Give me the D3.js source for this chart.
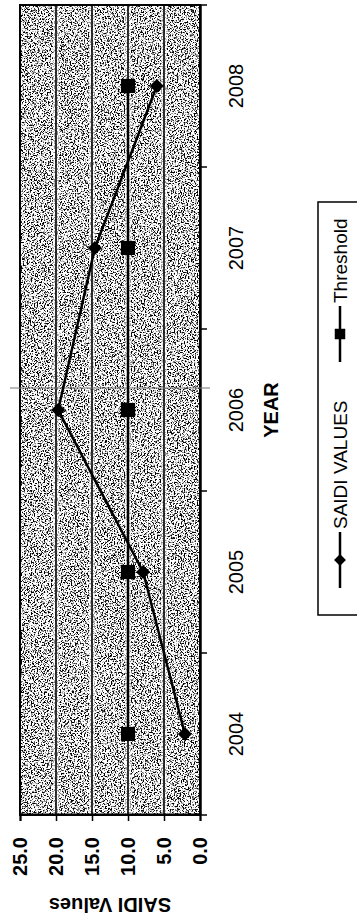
<!DOCTYPE html>
<html>
<head>
<meta charset="utf-8">
<script src="https://cdn.jsdelivr.net/npm/d3@7.9.0/dist/d3.min.js"></script>
<style>
  body { margin: 0; background: #fff; }
  svg { display: block; font-family: "Liberation Sans", Arial, sans-serif; }
</style>
</head>
<body>
<svg id="chart" width="357" height="924"></svg>
<script>
// data
const years = ["2004", "2005", "2006", "2007", "2008"];
const saidiValues = [2.1, 7.9, 19.7, 14.6, 6.0];
const thresholdValues = [10, 10, 10, 10, 10];
const valueTicks = [0, 5, 10, 15, 20, 25];
const legendLabels = ["SAIDI VALUES", "Threshold"];

const W = 924, H = 357; // chart is drawn in landscape, then turned on its side
const margin = { left: 109, right: 5, top: 20, bottom: 157 };

let svg = d3.select("#chart");

// speckled halftone look of the plot area
let defs = svg.append("defs");
let f = defs.append("filter").attr("id", "speckle")
  .attr("x", 0).attr("y", 0).attr("width", "100%").attr("height", "100%");
f.append("feTurbulence").attr("type", "fractalNoise")
  .attr("baseFrequency", 0.7).attr("numOctaves", 2).attr("seed", 7);
f.append("feColorMatrix").attr("type", "matrix")
  .attr("values", "0 0 0 0 0  0 0 0 0 0  0 0 0 0 0  1 0 0 0 0");
f.append("feComponentTransfer").append("feFuncA")
  .attr("type", "linear").attr("slope", 7).attr("intercept", -3.45);

let g = svg.append("g").attr("transform", `translate(0,${W}) rotate(-90)`);

let x = d3.scaleBand().domain(years).range([margin.left, W - margin.right]);
let y = d3.scaleLinear().domain([0, 25]).range([H - margin.bottom, margin.top]);

// plot background
g.append("rect")
  .attr("x", margin.left).attr("y", margin.top)
  .attr("width", W - margin.left - margin.right)
  .attr("height", H - margin.top - margin.bottom)
  .attr("fill", "#fff");
g.append("rect")
  .attr("x", margin.left).attr("y", margin.top)
  .attr("width", W - margin.left - margin.right)
  .attr("height", H - margin.top - margin.bottom)
  .attr("fill", "#fff")
  .attr("filter", "url(#speckle)");

// gridlines, with the light halo the scan leaves next to them
let grid = g.append("g");
let gridVals = valueTicks.filter(d => d > 0 && d < 25);
grid.selectAll(".halo")
  .data(gridVals)
  .join("line")
  .attr("class", "halo")
  .attr("x1", margin.left).attr("x2", W - margin.right)
  .attr("y1", d => y(d)).attr("y2", d => y(d))
  .attr("stroke", "#fff").attr("stroke-opacity", 0.55).attr("stroke-width", 6);
grid.selectAll(".gl")
  .data(gridVals)
  .join("line")
  .attr("class", "gl")
  .attr("x1", margin.left).attr("x2", W - margin.right)
  .attr("y1", d => y(d)).attr("y2", d => y(d))
  .attr("stroke", "#000").attr("stroke-width", 1.6);

// frame
g.append("rect")
  .attr("x", margin.left).attr("y", margin.top)
  .attr("width", W - margin.left - margin.right)
  .attr("height", H - margin.top - margin.bottom)
  .attr("fill", "none").attr("stroke", "#000").attr("stroke-width", 2);

// value axis
let yAxis = g.append("g")
  .attr("transform", `translate(${margin.left},0)`)
  .call(d3.axisLeft(y).tickValues(valueTicks).tickFormat(d3.format(".1f")).tickSize(6).tickPadding(16));
yAxis.select(".domain").attr("stroke-width", 2);
yAxis.selectAll("line").attr("stroke-width", 1.5);
yAxis.selectAll("text").attr("font-size", 20).attr("font-weight", "bold").attr("font-family", null);

// year axis
let xAxis = g.append("g")
  .attr("transform", `translate(0,${H - margin.bottom})`)
  .call(d3.axisBottom(x).tickSize(0).tickPadding(29));
xAxis.select(".domain").attr("stroke-width", 2.5);
xAxis.selectAll("text").attr("font-size", 20).attr("font-family", null);
xAxis.selectAll(".edge")
  .data(years.map(d => x(d)).concat([x.range()[1]]))
  .join("line")
  .attr("class", "edge")
  .attr("x1", d => d).attr("x2", d => d)
  .attr("y1", 0).attr("y2", 7)
  .attr("stroke", "#000").attr("stroke-width", 1.5);

// axis titles
g.append("text")
  .attr("x", (margin.left + W - margin.right) / 2)
  .attr("y", 278)
  .attr("text-anchor", "middle")
  .attr("font-size", 20).attr("font-weight", "bold")
  .text("YEAR");
g.append("text")
  .attr("transform", `translate(26,${(margin.top + H - margin.bottom) / 2}) rotate(-90)`)
  .attr("text-anchor", "middle")
  .attr("font-size", 20).attr("font-weight", "bold")
  .text("SAIDI Values");

// stray scanner line
g.append("line")
  .attr("x1", 536).attr("x2", 536).attr("y1", 10).attr("y2", 210)
  .attr("stroke", "#777").attr("stroke-width", 1);

// series
let line = d3.line().x((d, i) => x(years[i]) + x.bandwidth() / 2).y(d => y(d));
let diamond = d3.symbol(d3.symbolSquare, 100);
let square = d3.symbol(d3.symbolSquare, 200);

g.append("path").datum(thresholdValues)
  .attr("d", line).attr("fill", "none").attr("stroke", "#000").attr("stroke-width", 2.5);
g.append("path").datum(saidiValues)
  .attr("d", line).attr("fill", "none").attr("stroke", "#000").attr("stroke-width", 2.5);

g.append("g").selectAll("path")
  .data(thresholdValues)
  .join("path")
  .attr("transform", (d, i) => `translate(${x(years[i]) + x.bandwidth() / 2},${y(d)})`)
  .attr("d", square).attr("fill", "#000");
g.append("g").selectAll("path")
  .data(saidiValues)
  .join("path")
  .attr("transform", (d, i) => `translate(${x(years[i]) + x.bandwidth() / 2},${y(d)}) rotate(45)`)
  .attr("d", diamond).attr("fill", "#000");

// legend
let legend = g.append("g").attr("transform", "translate(309,318)");
legend.append("rect")
  .attr("width", 413).attr("height", 120)
  .attr("fill", "#fff").attr("stroke", "#000").attr("stroke-width", 1.5);

let items = legend.selectAll(".item")
  .data(legendLabels)
  .join("g")
  .attr("class", "item")
  .attr("transform", (d, i) => `translate(${[27, 253][i]},22)`);
items.append("line")
  .attr("x1", 0).attr("x2", 56)
  .attr("stroke", "#000").attr("stroke-width", 2.5);
items.append("path")
  .attr("transform", (d, i) => `translate(28,0) rotate(${i === 0 ? 45 : 0})`)
  .attr("d", (d, i) => (i === 0 ? d3.symbol(d3.symbolSquare, 70) : d3.symbol(d3.symbolSquare, 110))())
  .attr("fill", "#000");
items.append("text")
  .attr("x", 59).attr("y", 7)
  .attr("font-size", 19)
  .text(d => d);
</script>
</body>
</html>
